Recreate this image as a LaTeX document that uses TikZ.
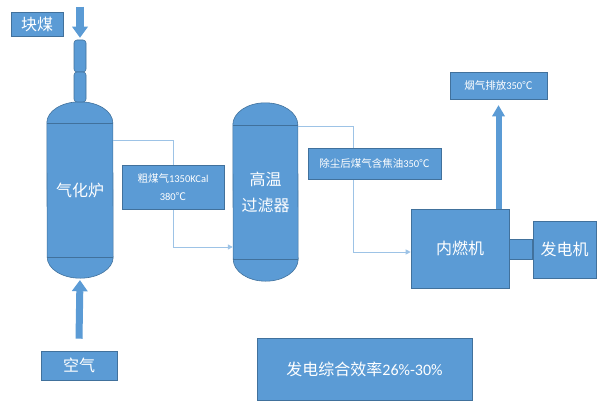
\documentclass[tikz,border=0pt]{standalone}
\usepackage{fontspec}
\setmainfont{Carlito}
\newfontfamily\cjk{Noto Sans CJK SC}
\newfontfamily\calib{Carlito}
\usetikzlibrary{arrows.meta,backgrounds}
\definecolor{boxblue}{HTML}{5B9BD5}
\definecolor{edgeblue}{HTML}{41719C}
\definecolor{pipeblue}{HTML}{9DC3E6}

\begin{document}
\begin{tikzpicture}
  [x=1pt,y=1pt,
   every node/.style={text=white,inner sep=0pt},
   box/.style={rectangle,fill=boxblue,draw=edgeblue,line width=.6pt},
   bigtext/.style={font=\cjk\fontsize{16}{26}\selectfont,align=center},
   smalltext/.style={font=\cjk\fontsize{10.5}{18}\selectfont,align=center},
   vessel/.style={rectangle,minimum width=66pt,minimum height=176pt},
   pipe/.style={draw=pipeblue,line width=1pt,-{Triangle[length=5pt,width=5pt]}},
   blockarrow/.style={draw=boxblue,line width=7pt,shorten >=2pt,
     -{Triangle[length=11pt,width=16pt,line width=0pt]}}]
  \useasboundingbox (0,0) rectangle (607,-412);

  % feed side
  \node[box,bigtext,minimum width=52pt,minimum height=24pt] (coal) at (37,-24) {块煤};
  \node[box,rounded corners=3pt,minimum width=12pt,minimum height=32pt] (chutetop) at (80,-56) {};
  \node[box,rounded corners=3pt,minimum width=12pt,minimum height=30pt] (chutelow) at (80,-87) {};
  \node[vessel,bigtext] (gasifier) at (80,-190) {气化炉};
  \node[box,bigtext,minimum width=76pt,minimum height=29pt] (air) at (79,-365.5) {空气};

  % filter, engine, generator
  \node[vessel,bigtext,minimum width=65pt,minimum height=178pt] (filter) at (265.5,-192) {高温\\过滤器};
  \node[box,bigtext,minimum width=98pt,minimum height=79pt] (engine) at (460,-248.5) {内燃机};
  \node[box,bigtext,minimum width=63pt,minimum height=57pt] (generator) at (564.5,-249.5) {发电机};

  % vessel bodies
  \begin{scope}[on background layer]
    \filldraw[box] ([yshift=-21pt]gasifier.north west)
      arc[start angle=180,end angle=0,x radius=33pt,y radius=21pt]
      -- ([yshift=21pt]gasifier.south east)
      arc[start angle=0,end angle=-180,x radius=33pt,y radius=21pt] -- cycle;
    \draw[edgeblue,line width=.6pt] ([yshift=-21pt]gasifier.north west) -- ([yshift=-21pt]gasifier.north east);
    \draw[edgeblue,line width=.6pt] ([yshift=21pt]gasifier.south west) -- ([yshift=21pt]gasifier.south east);
    \filldraw[box] ([yshift=-22pt]filter.north west)
      arc[start angle=180,end angle=0,x radius=32.5pt,y radius=22pt]
      -- ([yshift=22pt]filter.south east)
      arc[start angle=0,end angle=-180,x radius=32.5pt,y radius=22pt] -- cycle;
    \draw[edgeblue,line width=.6pt] ([yshift=-22pt]filter.north west) -- ([yshift=-22pt]filter.north east);
    \draw[edgeblue,line width=.6pt] ([yshift=22pt]filter.south west) -- ([yshift=22pt]filter.south east);
  \end{scope}

  % gas pipes
  \draw[pipe] ([yshift=50pt]gasifier.east) -- ++(60,0) |- ([yshift=-55pt]filter.west);
  \draw[pipe] ([yshift=66pt]filter.east) -- ++(55,0) |- ([yshift=-3.5pt]engine.west);

  % labels on pipes
  \node[box,smalltext,minimum width=102pt,minimum height=44pt] (rawgas) at (173,-187)
    {粗煤气{\calib 1350KCal}\\{\calib 380}℃};
  \node[box,smalltext,minimum width=133pt,minimum height=31pt] (cleangas) at (374.5,-163.5)
    {除尘后煤气含焦油{\calib 350}℃};
  \node[box,smalltext,minimum width=97pt,minimum height=27pt] (exhaust) at (498.5,-85.5)
    {烟气排放{\calib 350}℃};
  \node[box,bigtext,minimum width=215pt,minimum height=62pt] (efficiency) at (364.5,-369)
    {发电综合效率{\calib 26\%-30\%}};

  % block arrows and shaft
  \draw[blockarrow,line width=8pt] ([yshift=33pt]chutetop.north) -- (chutetop.north);
  \draw[blockarrow] ([yshift=12pt]air.north) -- (gasifier.south);
  \draw[blockarrow,line width=6pt,shorten >=6pt,-{Triangle[length=11pt,width=13pt,line width=0pt]}]
    (exhaust.south |- engine.north) -- (exhaust.south);
  \filldraw[box] ([yshift=9.5pt]engine.east) rectangle ([yshift=-9.5pt]generator.west);
\end{tikzpicture}
\end{document}
